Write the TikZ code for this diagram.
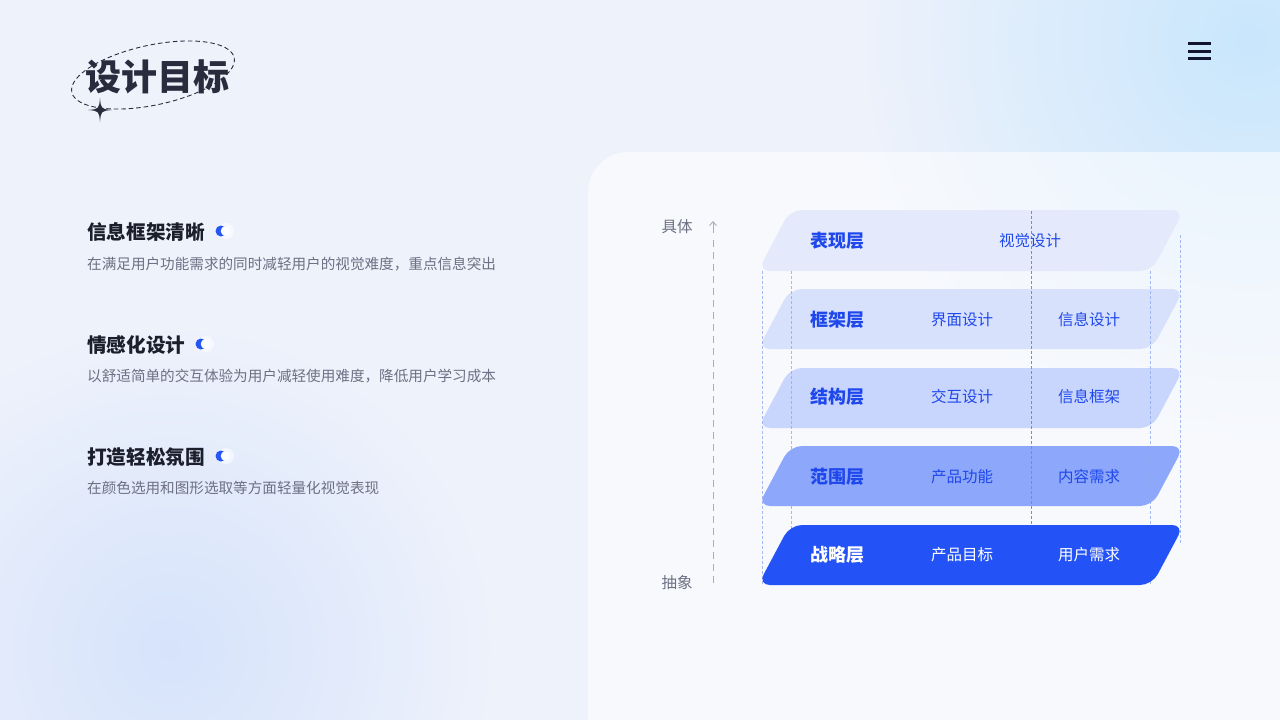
\documentclass[tikz,border=0pt]{standalone}
\usepackage{fontspec}
\setmainfont{Noto Sans CJK SC}
\usetikzlibrary{arrows.meta}
\definecolor{bg}{HTML}{EEF2FB}
\definecolor{glowTR}{HTML}{C9E6FC}
\definecolor{glowBL}{HTML}{D6E3FB}
\definecolor{ink}{HTML}{1C1E2C}
\definecolor{menuink}{HTML}{111530}
\definecolor{titleink}{HTML}{2A2C3E}
\definecolor{grayt}{HTML}{6D7083}
\definecolor{axisc}{HTML}{A9ADBA}
\definecolor{accent}{HTML}{2356F5}
\definecolor{lone}{HTML}{E4EAFC}
\definecolor{ltwo}{HTML}{D8E1FC}
\definecolor{lthree}{HTML}{C8D5FD}
\definecolor{lfour}{HTML}{8DA7FB}
\definecolor{lfive}{HTML}{2353F6}
\definecolor{ltext}{HTML}{1F48EC}
\definecolor{vline}{HTML}{8FA8F2}
\definecolor{vmid}{HTML}{6A89F6}
\tikzset{
  heading/.style={anchor=west, inner sep=0pt, text=ink, font=\fontsize{19.6}{22}\selectfont\bfseries},
  desc/.style={anchor=west, inner sep=0pt, text=grayt, font=\fontsize{14.6}{18}\selectfont},
  axislabel/.style={inner sep=0pt, text=grayt, font=\fontsize{15.5}{18}\selectfont},
  layername/.style={anchor=west, inner sep=0pt, text=ltext, font=\fontsize{18}{21}\selectfont\bfseries},
  layeritem/.style={inner sep=0pt, text=ltext, font=\fontsize{15.5}{18}\selectfont},
  layerbox/.style={rounded corners=12pt},
  guide/.style={draw=vline, line width=0.8pt, dash pattern=on 3pt off 2pt, opacity=0.8},
}
\newcommand{\layerpath}[2]{(758,#2) -- (790,#1) -- (1184,#1) -- (1152,#2) -- cycle}
\begin{document}
\begin{tikzpicture}[x=1pt,y=-1pt]
\useasboundingbox (0,0) rectangle (1280,720);
\begin{scope}
\clip (0,0) rectangle (1280,720);
\fill[bg] (0,0) rectangle (1280,720);
\shade[inner color=glowTR, outer color=bg] (1250,40) circle (400);
\shade[inner color=glowBL, outer color=bg] (170,650) circle (330);
\fill[white, opacity=0.55, rounded corners=40pt] (588,152) rectangle (1330,770);
\end{scope}

% title
\draw[titleink, line width=0.9pt, dash pattern=on 4.5pt off 3pt, rotate around={12:(153,75)}] (153,75) ellipse [x radius=83, y radius=30];
\node[inner sep=0pt, text=titleink, font=\fontsize{36}{40}\selectfont\bfseries] (title) at (157,77) {设计目标};
\fill[titleink] (100,98) .. controls (101,109) .. (112,110) .. controls (101,111) .. (100,122) .. controls (99,111) .. (88,110) .. controls (99,109) .. (100,98) -- cycle;

% menu
\foreach \yy in {43.5,51,58.5} \draw[menuink, line width=3pt] (1188,\yy) -- (1211,\yy);

% left items
\node[heading] (h1) at (87,232) {信息框架清晰};
\node[desc] (d1) at (87,264) {在满足用户功能需求的同时减轻用户的视觉难度，重点信息突出};
\node[heading] (h2) at (87,345) {情感化设计};
\node[desc] (d2) at (87,376) {以舒适简单的交互体验为用户减轻使用难度，降低用户学习成本};
\node[heading] (h3) at (87,457) {打造轻松氛围};
\node[desc] (d3) at (87,488) {在颜色选用和图形选取等方面轻量化视觉表现};
\foreach \cx/\cy in {221/231, 201/344, 221/456} {
  \fill[white, opacity=0.55] (\cx+5,\cy) circle (8);
  \fill[accent] (\cx,\cy) circle (5.5);
  \fill[white!85!bg] (\cx+4.5,\cy) circle (4.8);
}

% axis
\node[axislabel] (top) at (677,227) {具体};
\node[axislabel] (bot) at (677,583) {抽象};
\coordinate (atop) at (713,221);
\coordinate (amid) at (713,233);
\coordinate (abot) at (713,588);
\draw[axisc, line width=0.9pt, -{Straight Barb[length=4pt,width=7pt]}] (amid) -- (atop);
\draw[axisc, line width=1pt, dash pattern=on 7pt off 5pt] (713,240) -- (abot);

% layers 1-4
\fill[lone, layerbox] \layerpath{210}{271};
\fill[ltwo, layerbox] \layerpath{289}{349};
\fill[lthree, layerbox] \layerpath{368}{428};
\fill[lfour, layerbox] \layerpath{446}{506};

% guides
\draw[guide] (762,271) -- (762,585);
\draw[guide] (791,271) -- (791,585);
\draw[guide] (1150,271) -- (1150,585);
\draw[guide] (1180,235) -- (1180,545);
\draw[draw=vmid, line width=1pt, dash pattern=on 3pt off 2pt] (1031,211) -- (1031,524);

% layer 5
\fill[lfive, layerbox] \layerpath{525}{585};

% layer texts
\node[layername] (n1) at (810,241) {表现层};
\node[layeritem] (i11) at (1030,241) {视觉设计};
\node[layername] (n2) at (810,320) {框架层};
\node[layeritem] (i21) at (962,320) {界面设计};
\node[layeritem] (i22) at (1089,320) {信息设计};
\node[layername] (n3) at (810,397) {结构层};
\node[layeritem] (i31) at (962,397) {交互设计};
\node[layeritem] (i32) at (1089,397) {信息框架};
\node[layername] (n4) at (810,477) {范围层};
\node[layeritem] (i41) at (962,477) {产品功能};
\node[layeritem] (i42) at (1089,477) {内容需求};
\node[layername, text=white] (n5) at (810,555) {战略层};
\node[layeritem, text=white] (i51) at (962,555) {产品目标};
\node[layeritem, text=white] (i52) at (1089,555) {用户需求};
\end{tikzpicture}
\end{document}
